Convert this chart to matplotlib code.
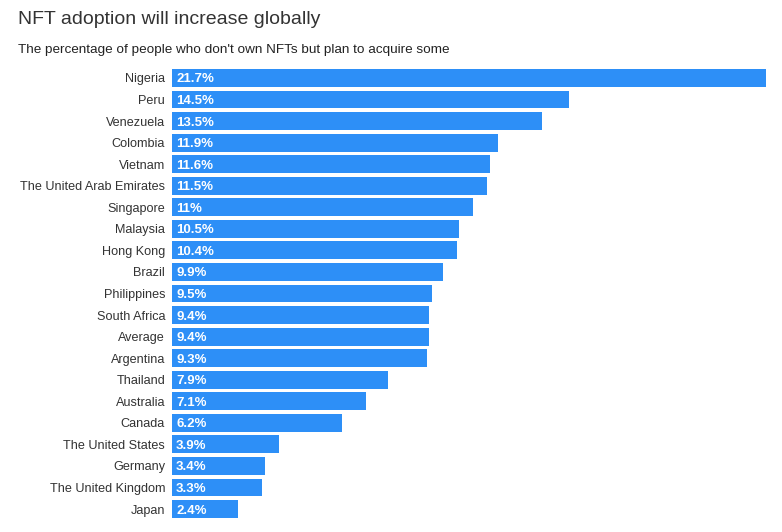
import matplotlib
matplotlib.use("Agg")
import matplotlib.pyplot as plt

countries = ["Nigeria", "Peru", "Venezuela", "Colombia", "Vietnam",
             "The United Arab Emirates", "Singapore", "Malaysia", "Hong Kong",
             "Brazil", "Philippines", "South Africa", "Average", "Argentina",
             "Thailand", "Australia", "Canada", "The United States", "Germany",
             "The United Kingdom", "Japan"]
values = [21.7, 14.5, 13.5, 11.9, 11.6, 11.5, 11, 10.5, 10.4, 9.9, 9.5,
          9.4, 9.4, 9.3, 7.9, 7.1, 6.2, 3.9, 3.4, 3.3, 2.4]
value_labels = ["21.7%", "14.5%", "13.5%", "11.9%", "11.6%", "11.5%", "11%",
                "10.5%", "10.4%", "9.9%", "9.5%", "9.4%", "9.4%", "9.3%",
                "7.9%", "7.1%", "6.2%", "3.9%", "3.4%", "3.3%", "2.4%"]

plt.rcParams['font.family'] = ['Liberation Sans', 'DejaVu Sans']

W, H = 782, 532
fig = plt.figure(figsize=(W / 100, H / 100), dpi=100)
ax = fig.add_axes([172 / W, 1 - 519.8 / H, (766 - 172) / W, (519.8 - 67.2) / H])

ypos = list(range(len(countries)))
ax.barh(ypos, values, height=0.83, color="#2d8ff7")
ax.set_ylim(len(countries) - 0.5, -0.5)
ax.set_xlim(0, max(values))
ax.set_yticks(ypos)
ax.set_yticklabels(countries, fontsize=9.1, color="#333333")
ax.tick_params(axis="y", length=0, pad=5)
ax.set_xticks([])
for s in ax.spines.values():
    s.set_visible(False)

for y, v, lab in zip(ypos, values, value_labels):
    ax.text(0.15, y, lab, color="white", fontsize=9.5, fontweight="bold",
            va="center_baseline", ha="left")

fig.text(18 / W, 1 - 20 / H, "NFT adoption will increase globally",
         fontsize=14, color="#333333", va="center", ha="left")
fig.text(18 / W, 1 - 50 / H,
         "The percentage of people who don't own NFTs but plan to acquire some",
         fontsize=9.7, color="#222222", va="center", ha="left")

fig.savefig("out.png", dpi=100)
